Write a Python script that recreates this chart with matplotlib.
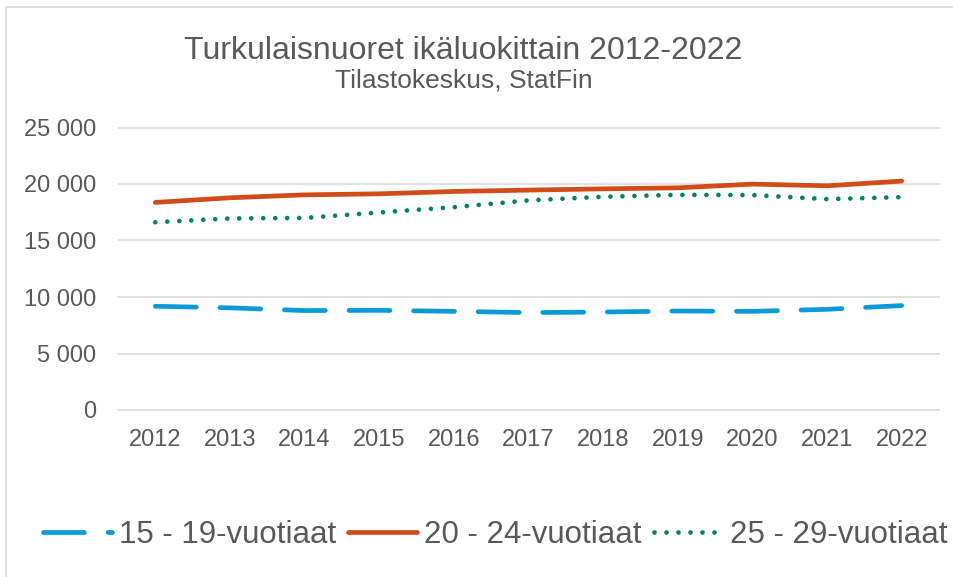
import matplotlib

matplotlib.use("Agg")

import matplotlib.pyplot as plt
from matplotlib.patches import Rectangle

# data
YEARS = ["2012", "2013", "2014", "2015", "2016", "2017",
         "2018", "2019", "2020", "2021", "2022"]
AGE_15_19 = [9180, 9040, 8800, 8820, 8730, 8620, 8670, 8760, 8730, 8910, 9240]
AGE_20_24 = [18370, 18780, 19040, 19130, 19340, 19460, 19570, 19660, 19990, 19840, 20260]
AGE_25_29 = [16620, 16950, 17000, 17480, 17950, 18550, 18870, 19040, 19020, 18660, 18840]
SERIES_LABELS = ["15 - 19-vuotiaat", "20 - 24-vuotiaat", "25 - 29-vuotiaat"]
Y_TICKS = [0, 5000, 10000, 15000, 20000, 25000]
Y_TICK_LABELS = ["0", "5 000", "10 000", "15 000", "20 000", "25 000"]
TITLE = "Turkulaisnuoret ikäluokittain 2012-2022"
SUBTITLE = "Tilastokeskus, StatFin"

W, H = 954, 577
TEXT_COLOR = "#595959"
GRID_COLOR = "#D9D9D9"
COLORS = ["#0A9BD7", "#D14C17", "#00855A"]

plt.rcParams.update({
    "font.family": ["Liberation Sans", "DejaVu Sans"],
    "lines.scale_dashes": False,
})

fig = plt.figure(figsize=(W / 100, H / 100), dpi=100, facecolor="white")

# outer chart frame (right/bottom edges fall outside the crop)
fig.patches.append(Rectangle((6 / W, -0.1), 1.2, 1 - 7 / H + 0.1,
                             transform=fig.transFigure, fill=False,
                             edgecolor=GRID_COLOR, linewidth=1.2))

left, right, top, bottom = 118, 939, 127.5, 410
ax = fig.add_axes([left / W, 1 - bottom / H, (right - left) / W, (bottom - top) / H])

x = list(range(len(YEARS)))
lw = 3.4
ax.plot(x, AGE_15_19, color=COLORS[0], linewidth=lw, dashes=(29.5, 17),
        dash_capstyle="round", solid_capstyle="round", label=SERIES_LABELS[0])
ax.plot(x, AGE_20_24, color=COLORS[1], linewidth=lw,
        solid_capstyle="round", label=SERIES_LABELS[1])
ax.plot(x, AGE_25_29, color=COLORS[2], linewidth=lw, dashes=(0.01, 8.63),
        dash_capstyle="round", label=SERIES_LABELS[2])

ax.set_xlim(-0.5, len(YEARS) - 0.5)
ax.set_ylim(0, 25000)
ax.set_xticks(x)
ax.set_xticklabels(YEARS)
ax.set_yticks(Y_TICKS)
ax.set_yticklabels(Y_TICK_LABELS)
ax.tick_params(axis="both", length=0, labelsize=17, labelcolor=TEXT_COLOR)
ax.tick_params(axis="y", pad=16)
ax.tick_params(axis="x", pad=14)
for spine in ax.spines.values():
    spine.set_visible(False)
ax.grid(axis="y", color=GRID_COLOR, linewidth=1.1)
ax.set_axisbelow(True)
for gl in ax.get_ygridlines():
    gl.set_clip_on(False)

fig.text(463.5 / W, 1 - 59 / H, TITLE, ha="center", va="baseline",
         fontsize=23, color=TEXT_COLOR)
fig.text(464 / W, 1 - 87.5 / H, SUBTITLE, ha="center", va="baseline",
         fontsize=19, color=TEXT_COLOR)

fig.legend(loc="lower left", bbox_to_anchor=(43 / W, 1 - 550 / H), ncol=3,
           frameon=False, fontsize=22.5, labelcolor=TEXT_COLOR,
           handlelength=2.2, handletextpad=0.22, columnspacing=0.4,
           borderaxespad=0, borderpad=0)

fig.savefig("out.png", dpi=100, facecolor="white")
